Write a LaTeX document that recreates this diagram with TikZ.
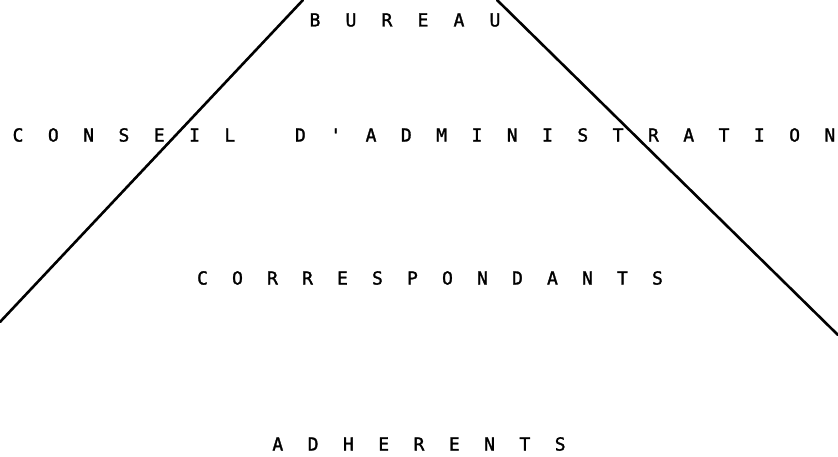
\documentclass[tikz,border=0pt]{standalone}
\usepackage{fontspec}
\newfontfamily\typefont{DejaVu Sans Mono}[FakeBold=1.5]
\newlength\letterpitch
\setlength\letterpitch{35pt}
\newcommand\spacedrun[2][35pt]{\setlength\letterpitch{#1}\spacedstep#2\relax}
\def\spacedstep#1{\ifx#1\relax\else\makebox[\letterpitch]{#1}\expandafter\spacedstep\fi}
\tikzset{
  label row/.style={inner sep=0pt, font=\typefont\fontsize{18}{18}\selectfont, text=black},
  side/.style={line width=2.6pt, black, line cap=round}
}
\begin{document}
\begin{tikzpicture}[x=1pt,y=-1pt]
\useasboundingbox (0,0) rectangle (838,457);
\fill[white] (0,0) rectangle (838,457);
\node[label row] (bureau) at (405,20) {\spacedrun[36pt]{BUREAU}};
\node[label row] (conseil) at (424,135) {\spacedrun[35.3pt]{CONSEIL~D'ADMINISTRATION}};
\node[label row] (corresp) at (430,278) {\spacedrun[35pt]{CORRESPONDANTS}};
\node[label row] (adherents) at (419,444) {\spacedrun[35.3pt]{ADHERENTS}};
\coordinate (ltop) at (303,0);
\coordinate (lbot) at (0,322);
\coordinate (rtop) at (497,0);
\coordinate (rbot) at (838,335);
\draw[side] (ltop) -- (lbot);
\draw[side] (rtop) -- (rbot);
\end{tikzpicture}
\end{document}
